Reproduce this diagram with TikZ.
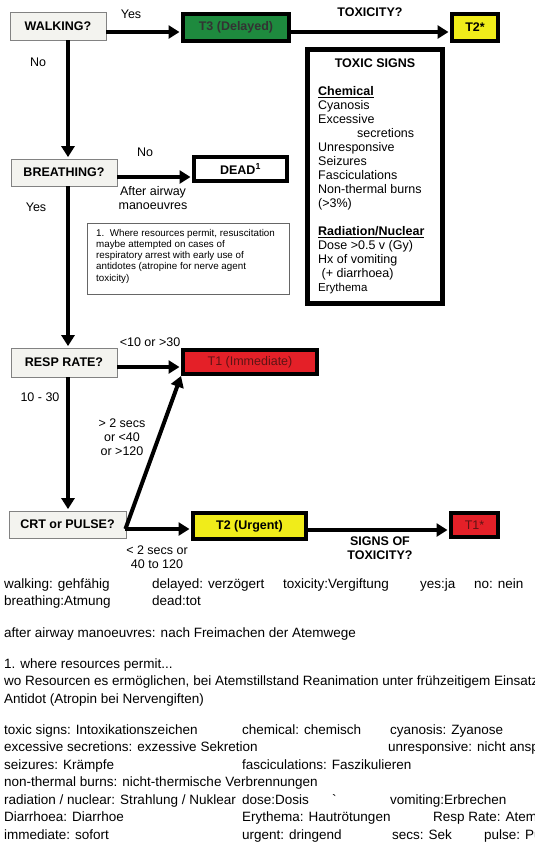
\documentclass[tikz,border=0pt]{standalone}
\usepackage{fontspec}
\setmainfont{Liberation Sans}
\usetikzlibrary{arrows.meta,calc}
\definecolor{qfill}{RGB}{243,243,239}
\definecolor{qdraw}{RGB}{130,130,130}
\definecolor{tgreen}{RGB}{30,138,62}
\definecolor{tyellow}{RGB}{240,236,26}
\definecolor{tred}{RGB}{228,32,40}
\definecolor{tredtext}{RGB}{95,20,20}
\begin{document}
\begin{tikzpicture}[x=1pt,y=-1pt,
  qbox/.style={draw=qdraw, line width=0.8pt, fill=qfill, inner sep=0pt,
    font=\bfseries\fontsize{12.5}{14}\selectfont},
  tbox/.style={draw=black, line width=4pt, inner sep=0pt,
    font=\bfseries\fontsize{12.5}{14}\selectfont},
  arr/.style={line width=4pt, -{Triangle[length=11pt,width=13pt]}, shorten >=1.5pt},
  lbl/.style={inner sep=0pt, align=center, font=\fontsize{12.5}{14}\selectfont},
  blbl/.style={inner sep=0pt, align=center, font=\bfseries\fontsize{12.5}{14}\selectfont},
  gl/.style={anchor=base west, inner sep=0pt, font=\fontsize{13.5}{16}\selectfont}]
\useasboundingbox (0,0) rectangle (535,847);
\fill[white] (0,0) rectangle (535,847);
\coordinate (tx) at (68,0);

% boxes
\node[qbox, minimum width=96pt, minimum height=28pt] (walk) at (58,26) {WALKING?};
\node[tbox, fill=tgreen, text=black!80, minimum width=106pt, minimum height=27pt] (t3) at (236,27.5) {T3 (Delayed)};
\node[tbox, fill=tyellow, minimum width=46pt, minimum height=27pt] (t2s) at (475,27.5) {T2*};
\node[qbox, minimum width=106pt, minimum height=27pt] (breath) at (64,172.5) {BREATHING?};
\node[tbox, fill=white, minimum width=93pt, minimum height=24pt] (dead) at (240.5,169) {DEAD\textsuperscript{1}};
\node[qbox, minimum width=106pt, minimum height=29pt] (resp) at (64,362.5) {RESP RATE?};
\node[tbox, fill=tred, text=tredtext, font=\fontsize{12.5}{14}\selectfont, minimum width=134pt, minimum height=24pt] (t1) at (250,362) {T1 (Immediate)};
\node[qbox, minimum width=117pt, minimum height=27pt] (crt) at (67.5,524.5) {CRT or PULSE?};
\node[tbox, fill=tyellow, minimum width=113pt, minimum height=26pt] (t2u) at (249.5,526) {T2 (Urgent)};
\node[tbox, fill=tred, text=tredtext, font=\fontsize{12.5}{14}\selectfont, minimum width=47pt, minimum height=24pt] (t1s) at (474.5,525) {T1*};

% footnote box
\node[draw=black!60, line width=0.7pt, minimum width=202pt, minimum height=71pt, inner sep=0pt] (foot) at (188,258.5) {};
\node[anchor=north west, inner sep=0pt, align=left, font=\fontsize{9.8}{11.2}\selectfont] (foottext) at (96,229)
 {1.\ \ Where resources permit, resuscitation\\maybe attempted on cases of\\respiratory arrest with early use of\\antidotes (atropine for nerve agent\\toxicity)};

% toxic signs box
\node[draw=black, line width=3.5pt, minimum width=136pt, minimum height=255pt, inner sep=0pt] (tox) at (375,176.5) {};
\draw[line width=1.2pt] ([xshift=4pt,yshift=-4pt]tox.north west) rectangle ([xshift=-4pt,yshift=4pt]tox.south east);
\node[blbl] (toxtitle) at (375,63) {TOXIC SIGNS};
\node[anchor=north west, inner sep=0pt, align=left, font=\fontsize{12.5}{14}\selectfont] (toxlist) at (318,86.5)
 {\textbf{\underline{Chemical}}\\Cyanosis\\Excessive\\\hspace*{39pt}secretions\\Unresponsive\\Seizures\\Fasciculations\\Non-thermal burns\\(>3\%)\\[14pt]\textbf{\underline{Radiation/Nuclear}}\\Dose >0.5 v (Gy)\\Hx of vomiting\\\ (+ diarrhoea)\\{\fontsize{11.5}{14}\selectfont Erythema}};

% connectors
\draw[arr] ([yshift=-6pt]walk.east) -- ([yshift=-6pt]walk.east -| t3.west);
\draw[arr] ([yshift=-4.5pt]t3.east) -- ([yshift=-4.5pt]t3.east -| t2s.west);
\draw[arr] (walk.south -| tx) -- (breath.north -| tx);
\draw[arr] ([yshift=-4.5pt]breath.east) -- ([yshift=-4.5pt]breath.east -| dead.west);
\draw[arr] (breath.south -| tx) -- (resp.north -| tx);
\draw[arr] ([yshift=-4.5pt]resp.east) -- ([yshift=-4.5pt]resp.east -| t1.west);
\draw[arr] (resp.south -| tx) -- (crt.north -| tx);
\coordinate (cs) at ([xshift=-1pt,yshift=-4.5pt]crt.east);
\draw[arr, shorten >=0pt] (cs) -- (t1.south west);
\draw[arr] (cs) -- (cs -| t2u.west);
\draw[arr] ([yshift=-4pt]t2u.east) -- ([yshift=-4pt]t2u.east -| t1s.west);

% labels
\node[lbl] (yes1) at (131,14) {Yes};
\node[blbl] (toxq) at (370,12) {TOXICITY?};
\node[lbl] (no1) at (38,62) {No};
\node[lbl] (no2) at (145,152) {No};
\node[lbl] (airway) at (153,198) {After airway\\manoeuvres};
\node[lbl] (yes2) at (36,207) {Yes};
\node[lbl] (rr) at (150,342) {<10 or >30};
\node[lbl] (rrok) at (40,397) {10 - 30};
\node[lbl] (crtbad) at (122,437) {> 2 secs\\or <40\\or >120};
\node[lbl] (crtok) at (157,557) {< 2 secs or\\40 to 120};
\node[blbl] (signs) at (380,548) {SIGNS OF\\TOXICITY?};

% glossary
\node[gl] (g1a) at (4,588) {walking: gehfähig};
\node[gl] (g1b) at (152,588) {delayed: verzögert};
\node[gl] (g1c) at (283,588) {toxicity:Vergiftung};
\node[gl] (g1d) at (420,588) {yes:ja};
\node[gl] (g1e) at (474,588) {no: nein};
\node[gl] (g2a) at (4,605.5) {breathing:Atmung};
\node[gl] (g2b) at (152,605.5) {dead:tot};
\node[gl] (g3) at (4,637) {after airway manoeuvres: nach Freimachen der Atemwege};
\node[gl] (g4) at (4,668) {1. where resources permit...};
\node[gl] (g5) at (4,685.5) {wo Resourcen es ermöglichen, bei Atemstillstand Reanimation unter frühzeitigem Einsatz};
\node[gl] (g6) at (4,703) {Antidot (Atropin bei Nervengiften)};
\node[gl] (g7a) at (4,734) {toxic signs: Intoxikationszeichen};
\node[gl] (g7b) at (242,734) {chemical: chemisch};
\node[gl] (g7c) at (390,734) {cyanosis: Zyanose};
\node[gl] (g8a) at (4,751.5) {excessive secretions: exzessive Sekretion};
\node[gl] (g8b) at (388,751.5) {unresponsive: nicht ansprechbar};
\node[gl] (g9a) at (4,769) {seizures: Krämpfe};
\node[gl] (g9b) at (242,769) {fasciculations: Faszikulieren};
\node[gl] (g10) at (4,786.5) {non-thermal burns: nicht-thermische Verbrennungen};
\node[gl] (g11a) at (4,804) {radiation / nuclear: Strahlung / Nuklear};
\node[gl] (g11b) at (242,804) {dose:Dosis};
\node[gl] (g11c) at (332,804) {\textasciigrave};
\node[gl] (g11d) at (390,804) {vomiting:Erbrechen};
\node[gl] (g12a) at (4,821.5) {Diarrhoea: Diarrhoe};
\node[gl] (g12b) at (242,821.5) {Erythema: Hautrötungen};
\node[gl] (g12c) at (433,821.5) {Resp Rate: Atemfrequenz};
\node[gl] (g13a) at (4,839) {immediate: sofort};
\node[gl] (g13b) at (242,839) {urgent: dringend};
\node[gl] (g13c) at (392,839) {secs: Sek};
\node[gl] (g13d) at (484,839) {pulse: Puls};
\end{tikzpicture}
\end{document}
